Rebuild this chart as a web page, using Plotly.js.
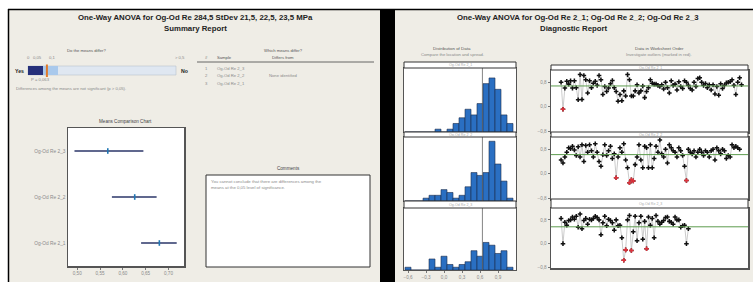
<!DOCTYPE html>
<html><head><meta charset="utf-8">
<script src="https://cdn.plot.ly/plotly-3.0.1.min.js"></script>
<style>html,body{margin:0;padding:0;background:#fff}#chart{width:753px;height:282px}</style>
</head><body><div id="chart"></div>
<script>
// ---------------- data ----------------
const samples = ['Og-Od Re 2_1', 'Og-Od Re 2_2', 'Og-Od Re 2_3'];
const meanValues = [0.680, 0.626, 0.567];
const ciLower = [0.640, 0.576, 0.494];
const ciUpper = [0.718, 0.674, 0.645];
const meanTicks = [0.50, 0.55, 0.60, 0.65, 0.70];

const pScale = [0, 0.05, 0.1, 0.5];
const pScaleLabels = ['0', '0,05', '0,1', '> 0,5'];
const pValue = 0.063;

const binCenters = [-0.6,-0.5,-0.4,-0.3,-0.2,-0.1,0.0,0.1,0.2,0.3,0.4,0.5,0.6,0.7,0.8,0.9,1.0,1.1];
const hist1 = [0,0,0,0,0,1,0,1,3,5,8,6,10,17,19,15,6,3];
const hist2 = [0,0,0,1,2,2,4,3,1,2,5,10,9,10,21,13,7,1];
const hist3 = [1,0,0,0,4,1,5,2,1,2,3,7,5,10,9,6,7,1];
const histTicks = [-0.6, -0.3, 0, 0.3, 0.6, 0.9];
const overallMean = 0.64;

const order1 = [0.80,-0.08,0.61,0.83,0.74,0.85,0.61,0.85,0.62,0.23,1.05,0.24,1.02,0.88,0.45,0.85,0.62,0.77,0.83,0.70,1.02,0.88,0.40,0.66,0.50,0.61,0.75,0.86,0.62,0.50,0.18,0.40,0.20,0.52,0.35,1.05,0.88,0.35,0.35,0.52,0.72,0.45,0.52,0.68,0.30,0.50,0.62,0.88,0.77,0.74,0.74,0.70,0.66,0.72,0.58,0.80,0.62,0.45,0.85,0.70,0.74,0.55,0.82,0.66,0.60,0.85,0.80,0.70,0.60,0.55,0.80,0.66,0.92,0.95,0.80,0.70,0.76,0.62,0.72,0.55,0.72,0.42,0.66,0.38,0.75,0.60,0.70,0.78,0.80,0.82,0.88,0.70,0.40,0.80,0.95,0.72];
const order2 = [0.45,0.35,0.55,0.70,0.85,0.82,0.90,0.78,0.60,0.88,0.55,0.95,0.40,0.92,0.70,0.95,0.75,0.55,0.98,0.70,0.40,0.25,0.62,0.95,0.60,0.75,0.90,0.50,0.65,-0.13,0.55,0.85,0.70,0.98,0.45,0.20,-0.29,-0.19,-0.23,0.30,0.55,0.95,0.45,0.20,0.90,0.85,0.20,0.95,0.20,0.50,0.90,0.70,1.10,0.65,0.55,0.80,0.35,0.95,0.85,0.75,0.70,0.55,0.85,0.75,0.60,0.25,-0.22,0.80,0.70,0.65,0.75,0.55,0.70,0.80,0.70,0.60,0.75,0.70,0.55,0.75,0.80,0.45,0.85,0.75,0.65,0.80,0.75,0.50,0.60,0.55,0.95,0.85,0.90,0.85,0.80];
const order3 = [0.85,0.00,0.72,0.62,0.78,0.80,0.90,0.82,0.92,0.55,1.00,0.50,0.78,0.85,0.65,0.82,0.80,0.85,0.92,0.88,0.80,0.30,0.70,0.92,0.60,0.82,0.78,0.70,0.45,0.80,0.60,0.62,0.20,-0.56,-0.21,0.80,0.95,-0.23,0.40,0.92,0.10,0.70,0.92,0.15,0.75,-0.17,0.90,0.62,0.85,0.20,0.95,0.75,0.65,0.72,0.78,0.88,0.90,0.75,0.72,0.65,0.90,0.80,0.80,0.55,0.60,0.62,0.00,0.50];
const outliers1 = [2];
const outliers2 = [30, 37, 38, 39, 67];
const outliers3 = [34, 35, 38, 46];
const orderTicks = [-0.8, 0, 0.8];

// ---------------- helpers ----------------
const W = 753, H = 282;
const X = x => x / W;
const Y = y => 1 - y / H;
const BEIGE = '#efede6';
const FONT = 'Liberation Sans, Arial, sans-serif';
const GRAY = '#8a8a8a';
const DARK = '#222';

// p-value scale (non-linear, piecewise) -> pixel
const pPix = [28, 43, 58, 176];
function pToPx(p) {
  for (let i = 0; i < pScale.length - 1; i++) {
    if (p <= pScale[i + 1]) {
      return pPix[i] + (p - pScale[i]) / (pScale[i + 1] - pScale[i]) * (pPix[i + 1] - pPix[i]);
    }
  }
  return pPix[pPix.length - 1];
}

const traces = [];
// Means comparison chart
traces.push({
  type: 'scatter', mode: 'markers', xaxis: 'x', yaxis: 'y',
  x: meanValues, y: samples,
  error_x: { type: 'data', symmetric: false,
    array: meanValues.map((m, i) => ciUpper[i] - m),
    arrayminus: meanValues.map((m, i) => m - ciLower[i]),
    color: '#2b3668', thickness: 1.3, width: 0 },
  marker: { symbol: 'line-ns-open', size: 4, line: { color: '#2b3668', width: 1.6 } },
  hoverinfo: 'skip'
});
// histograms
[hist1, hist2, hist3].forEach((h, i) => {
  traces.push({
    type: 'bar', xaxis: 'x' + (i + 2), yaxis: 'y' + (i + 2),
    x: binCenters, y: h, width: 0.1,
    marker: { color: '#2a6fc2', line: { color: '#1c2b4a', width: 0.6 } },
    hoverinfo: 'skip'
  });
});
// worksheet order
const orders = [order1, order2, order3];
const outs = [outliers1, outliers2, outliers3];
orders.forEach((d, i) => {
  const idx = d.map((_, k) => k + 1);
  traces.push({
    type: 'scatter', mode: 'lines+markers', xaxis: 'x' + (i + 5), yaxis: 'y' + (i + 5),
    x: idx, y: d,
    line: { color: '#b4b4b4', width: 0.7 },
    marker: { symbol: 'cross', size: 3.8, color: '#111' },
    hoverinfo: 'skip'
  });
  traces.push({
    type: 'scatter', mode: 'markers', xaxis: 'x' + (i + 5), yaxis: 'y' + (i + 5),
    x: outs[i], y: outs[i].map(k => d[k - 1]),
    marker: { symbol: 'cross', size: 3.8, color: '#e0323c' },
    hoverinfo: 'skip'
  });
});

const tickFont = { family: FONT, size: 4.6, color: GRAY };
const layout = {
  width: W, height: H,
  margin: { l: 0, r: 0, t: 0, b: 0, pad: 0 },
  paper_bgcolor: BEIGE, plot_bgcolor: '#ffffff',
  showlegend: false, separators: ', ',
  font: { family: FONT },
  xaxis: { domain: [X(68), X(184)], range: [0.4798, 0.734], tickvals: meanTicks, tickformat: '.2f',
    ticks: 'outside', ticklen: 2, tickcolor: '#777', tickfont: tickFont,
    showgrid: false, zeroline: false, showline: true, mirror: true, linecolor: '#555', linewidth: 1.5 },
  yaxis: { domain: [Y(266), Y(128)], type: 'category', categoryorder: 'array', categoryarray: samples,
    range: [-0.5, 2.5], ticks: '', tickfont: { family: FONT, size: 4.8, color: GRAY },
    showgrid: false, zeroline: false, showline: true, mirror: true, linecolor: '#555', linewidth: 1.5 },
  shapes: [], annotations: []
};
const histY = [[132, 68], [201, 137], [270, 208]];
for (let i = 0; i < 3; i++) {
  const n = i + 2;
  layout['xaxis' + n] = { domain: [X(404), X(516)], range: [-0.667, 1.2], anchor: 'y' + n,
    showticklabels: i === 2, tickvals: histTicks, tickformat: '.1f', ticks: i === 2 ? 'outside' : '',
    ticklen: 2, tickcolor: '#777', tickfont: tickFont,
    showgrid: false, zeroline: false, showline: true, mirror: true, linecolor: '#555', linewidth: 1 };
  layout['yaxis' + n] = { domain: [Y(histY[i][0]), Y(histY[i][1])], range: [0, 22.5], anchor: 'x' + n,
    showticklabels: false, ticks: '', showgrid: false, zeroline: false,
    showline: true, mirror: true, linecolor: '#555', linewidth: 1 };
  layout.shapes.push({ type: 'line', xref: 'x' + n, yref: 'y' + n + ' domain', x0: overallMean, x1: overallMean,
    y0: 0, y1: 1, line: { color: '#666', width: 0.8 } });
}
const ordY = [[132, 70], [199, 137], [268, 208]];
const maxN = 99.4;
for (let i = 0; i < 3; i++) {
  const n = i + 5;
  layout['xaxis' + n] = { domain: [X(551), X(748)], range: [-4.3, maxN], anchor: 'y' + n,
    showticklabels: false, ticks: '', showgrid: false, zeroline: false,
    showline: true, mirror: true, linecolor: '#555', linewidth: 1.5 };
  layout['yaxis' + n] = { domain: [Y(ordY[i][0]), Y(ordY[i][1])], range: [-0.82, 1.2], anchor: 'x' + n,
    tickvals: orderTicks, tickformat: '.1f', ticks: 'outside', ticklen: 2, tickcolor: '#777', tickfont: tickFont,
    showgrid: false, zeroline: false, showline: true, mirror: true, linecolor: '#555', linewidth: 1.5 };
  layout.shapes.push({ type: 'line', xref: 'x' + n + ' domain', yref: 'y' + n, x0: 0, x1: 1,
    y0: meanValues[i], y1: meanValues[i], line: { color: '#5d9c4e', width: 1 } });
}

const S = layout.shapes, A = layout.annotations;
// page frame
S.push({ type: 'rect', xref: 'paper', yref: 'paper', layer: 'below', x0: 0, x1: 1, y0: Y(9), y1: 1, fillcolor: '#fff', line: { width: 0 } });
S.push({ type: 'rect', xref: 'paper', yref: 'paper', layer: 'below', x0: 0, x1: X(8), y0: 0, y1: 1, fillcolor: '#fff', line: { width: 0 } });
S.push({ type: 'rect', xref: 'paper', yref: 'paper', x0: X(380), x1: X(395), y0: 0, y1: Y(9), fillcolor: '#000', line: { width: 0 } });
S.push({ type: 'line', xref: 'paper', yref: 'paper', x0: X(8), x1: 1, y0: Y(9.5), y1: Y(9.5), line: { color: '#000', width: 1.5 } });
S.push({ type: 'line', xref: 'paper', yref: 'paper', x0: X(8.5), x1: X(8.5), y0: 0, y1: Y(9), line: { color: '#000', width: 1.5 } });

// p-value bar
const barTop = 66, barBot = 75;
S.push({ type: 'rect', xref: 'paper', yref: 'paper', x0: X(pToPx(pScale[0])), x1: X(pToPx(pScale[3])), y0: Y(barBot), y1: Y(barTop), fillcolor: '#dfe7f1', line: { color: '#b9c3cf', width: 0.6 } });
S.push({ type: 'rect', xref: 'paper', yref: 'paper', x0: X(pToPx(pScale[1])), x1: X(pToPx(pScale[2])), y0: Y(barBot), y1: Y(barTop), fillcolor: '#a9c9ec', line: { width: 0 } });
S.push({ type: 'rect', xref: 'paper', yref: 'paper', x0: X(pToPx(pScale[0])), x1: X(pToPx(pScale[1])), y0: Y(barBot), y1: Y(barTop), fillcolor: '#26307a', line: { width: 0 } });
S.push({ type: 'line', xref: 'paper', yref: 'paper', x0: X(pToPx(pValue)), x1: X(pToPx(pValue)), y0: Y(77), y1: Y(64.5), line: { color: '#e07a2a', width: 2 } });
// table underline
S.push({ type: 'line', xref: 'paper', yref: 'paper', x0: X(197), x1: X(374), y0: Y(62), y1: Y(62), line: { color: '#444', width: 0.8 } });
// comments box
S.push({ type: 'rect', xref: 'paper', yref: 'paper', x0: X(206), x1: X(370), y0: Y(267), y1: Y(175), fillcolor: '#fff', line: { color: '#333', width: 1 } });
// histogram header strips
[[62, 68], [132, 137], [201, 208]].forEach(h => {
  S.push({ type: 'rect', xref: 'paper', yref: 'paper', x0: X(404), x1: X(516), y0: Y(h[1]), y1: Y(h[0]), fillcolor: '#fff', line: { color: '#333', width: 1 } });
});
[[65, 70], [132, 137], [199, 208]].forEach(h => {
  S.push({ type: 'rect', xref: 'paper', yref: 'paper', x0: X(551), x1: X(748), y0: Y(h[1]), y1: Y(h[0]), fillcolor: '#fff', line: { color: '#333', width: 1 } });
});

function ann(text, x, y, size, color, opts) {
  A.push(Object.assign({ text: text, xref: 'paper', yref: 'paper', x: X(x), y: Y(y), showarrow: false,
    xanchor: 'center', yanchor: 'middle', font: { family: FONT, size: size, color: color } }, opts || {}));
}
// left report
ann('<b>One-Way ANOVA for Og-Od Re 284,5 StDev 21,5, 22,5, 23,5 MPa</b>', 195, 17, 7.8, DARK);
ann('<b>Summary Report</b>', 195, 28, 7.8, DARK);
ann('Do the means differ?', 86, 50, 4.2, '#555');
pScale.forEach((p, i) => ann(pScaleLabels[i], [28, 37, 52, 180][i], 57, 4.2, GRAY));
ann('<b>Yes</b>', 19, 70.5, 5.2, DARK);
ann('<b>No</b>', 184, 70.5, 5.2, DARK);
ann('P = 0,063', 40, 80, 4.2, GRAY);
ann('Differences among the means are not significant (p > 0,05).', 14, 89, 4.2, GRAY, { xanchor: 'left' });
ann('Which means differ?', 283, 50, 4.2, '#555');
ann('#', 207, 57, 4.2, '#555');
ann('Sample', 215, 57, 4.2, '#555', { xanchor: 'left' });
ann('Differs from', 283, 57, 4.2, '#555');
const rowY = [68, 75.5, 83];
[samples[2], samples[1], samples[0]].forEach((s, i) => {
  ann(String(i + 1), 207, rowY[i], 4.2, GRAY);
  ann(s, 215, rowY[i], 4.2, GRAY, { xanchor: 'left' });
});
ann('None identified', 283, rowY[1], 4.2, GRAY);
ann('Means Comparison Chart', 126, 121.5, 4.6, '#444');
ann('Comments', 288, 168, 4.6, '#444');
ann('You cannot conclude that there are differences among the<br>means at the 0,05 level of significance.', 208.5, 184.5, 4.3, GRAY, { xanchor: 'left', align: 'left' });
// right report
ann('<b>One-Way ANOVA for Og-Od Re 2_1; Og-Od Re 2_2; Og-Od Re 2_3</b>', 578, 17, 7.8, DARK);
ann('<b>Diagnostic Report</b>', 574, 28, 7.8, DARK);
ann('Distribution of Data', 452, 49, 4.4, '#555');
ann('Compare the location and spread.', 452, 54.5, 4.2, GRAY);
ann('Data in Worksheet Order', 659, 49, 4.4, '#555');
ann('Investigate outliers (marked in red).', 659, 54.5, 4.2, GRAY);
[[65, samples[0]], [134.5, samples[1]], [204.5, samples[2]]].forEach(h => ann(h[1], 460, h[0], 3.6, '#aaa'));
[[67.5, samples[0]], [134.5, samples[1]], [203.5, samples[2]]].forEach(h => ann(h[1], 650, h[0], 3.6, '#aaa'));

Plotly.newPlot('chart', traces, layout, { displayModeBar: false, staticPlot: true });
</script></body></html>
